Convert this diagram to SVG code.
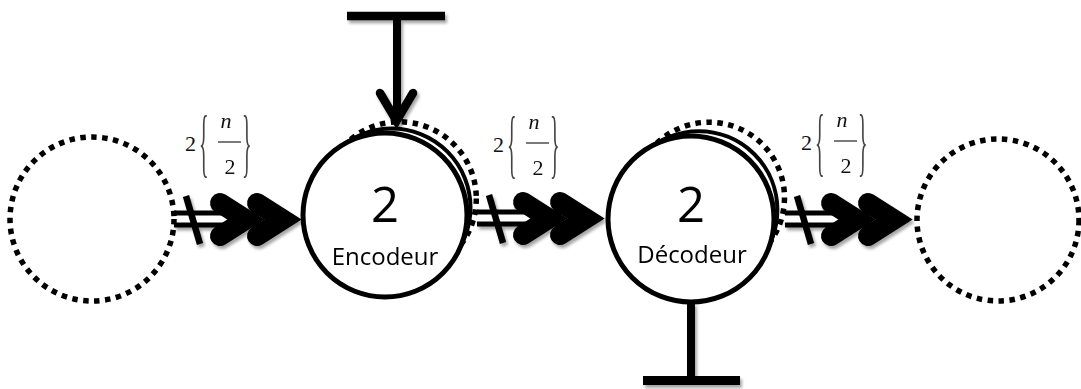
<svg xmlns="http://www.w3.org/2000/svg" xmlns:xlink="http://www.w3.org/1999/xlink" width="1081" height="389" viewBox="0 0 1081 389">
<style>
.dot{fill:#fff;stroke:#000;stroke-width:5.5;stroke-dasharray:5.5 5.5}
.dotn{fill:none;stroke:#000;stroke-width:5.5;stroke-dasharray:5.5 5.5}
.ring{fill:#fff;stroke:#000;stroke-width:4}
.main{fill:#fff;stroke:#000;stroke-width:5}
.big{font-family:"Open Sans","Liberation Sans",sans-serif;font-size:49px;fill:#000;text-anchor:middle}
.name{font-family:"Open Sans","Liberation Sans",sans-serif;font-size:24px;fill:#000;text-anchor:middle}
.m{font-family:"Liberation Serif","DejaVu Serif",serif;font-size:22px;fill:#111}
.mi{font-family:"Liberation Serif","DejaVu Serif",serif;font-size:22px;font-style:italic;fill:#111;text-anchor:middle}
.br{font-family:"Liberation Serif","DejaVu Serif",serif;font-size:20px;fill:#444}
.frac{stroke:#222;stroke-width:1.2}
.chev{fill:none;stroke:#000;stroke-width:20;stroke-linecap:round;stroke-linejoin:miter;stroke-miterlimit:8}
.bar{fill:none;stroke:#000;stroke-linecap:butt}
</style>
<defs>
<filter id="sh" x="-30%" y="-30%" width="170%" height="170%">
<feDropShadow dx="2" dy="3" stdDeviation="1.6" flood-color="#000" flood-opacity="0.35"/>
</filter>
<g id="conn">
<line x1="174" y1="219" x2="272" y2="219" stroke="#000" stroke-width="17"/>
<line x1="172" y1="219" x2="273" y2="219" stroke="#fff" stroke-width="7"/>
<path class="bar" d="M186 196 L200 244" stroke-width="6.5"/>
<path class="chev" d="M220 203 L246 219.5 L220 236"/>
<path class="chev" d="M257 203 L283 219.5 L257 236"/>
</g>
<g id="lbl">
<text class="m" x="185" y="151">2</text>
<text class="br" transform="translate(199,168) scale(1,3.8)">{</text>
<text class="mi" x="226" y="128">n</text>
<line class="frac" x1="218" y1="142" x2="241" y2="142"/>
<text class="m" x="230" y="174" text-anchor="middle">2</text>
<text class="br" transform="translate(242,168) scale(1,3.8)">}</text>
</g>
</defs>
<rect width="1081" height="389" fill="#fff"/>
<g id="connectors">
<g filter="url(#sh)">
<use xlink:href="#conn"/>
<use xlink:href="#conn" x="303" y="-1"/>
<use xlink:href="#conn" x="611"/>
</g>
<use xlink:href="#lbl"/>
<use xlink:href="#lbl" x="308" y="1"/>
<use xlink:href="#lbl" x="616" y="-1"/>
</g>
<g id="node-source">
<circle class="dotn" cx="92" cy="219" r="82"/>
</g>
<g id="node-encodeur">
<circle class="dot" cx="399.6" cy="198.5" r="76.7"/>
<circle class="ring" cx="391.6" cy="207.5" r="78.9"/>
<circle class="main" cx="385" cy="215" r="82"/>
<text class="big" x="385" y="222">2</text>
<text class="name" x="385" y="265">Encodeur</text>
</g>
<g id="input-top" filter="url(#sh)">
<line class="bar" x1="347" y1="16" x2="445" y2="16" stroke-width="8.5"/>
<line class="bar" x1="397" y1="16" x2="397" y2="118" stroke-width="8"/>
<path d="M380 93 L396.5 121 L413 93" fill="none" stroke="#000" stroke-width="8.5" stroke-linecap="round" stroke-linejoin="miter"/>
</g>
<g id="node-decodeur">
<circle class="dot" cx="709.1" cy="197.6" r="75.4"/>
<circle class="ring" cx="698.8" cy="209.8" r="78.6"/>
<circle class="main" cx="691" cy="219" r="83"/>
<text class="big" x="691" y="222">2</text>
<text class="name" x="692" y="263">Décodeur</text>
</g>
<g id="output-bottom" filter="url(#sh)">
<line class="bar" x1="691" y1="303" x2="691" y2="381" stroke-width="8"/>
<line class="bar" x1="643" y1="380.5" x2="740" y2="380.5" stroke-width="9"/>
</g>
<g id="node-sink">
<circle class="dotn" cx="998" cy="220" r="81"/>
</g>
</svg>
